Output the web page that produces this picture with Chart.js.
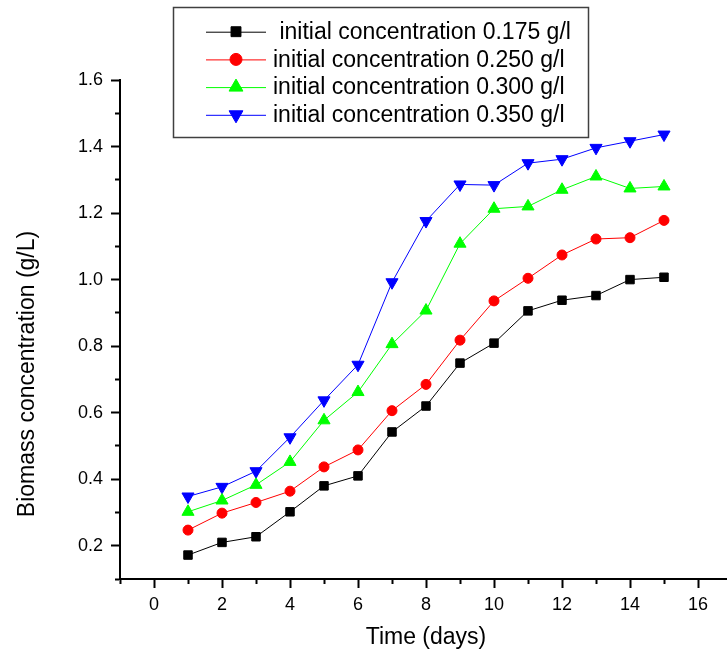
<!DOCTYPE html>
<html>
<head>
<meta charset="utf-8">
<title>Biomass concentration vs time</title>
<script src="https://cdn.jsdelivr.net/npm/chart.js@4.4.1/dist/chart.umd.min.js"></script>
<style>
  html, body { margin: 0; padding: 0; background: #fff; overflow: hidden; }
  #biomassChart { display: block; }
</style>
</head>
<body>
<canvas id="biomassChart" width="740" height="654"></canvas>
<script>
// Datos: concentración de biomasa (g/L) por día
const days = [1, 2, 3, 4, 5, 6, 7, 8, 9, 10, 11, 12, 13, 14, 15];
const conc0175 = [0.172, 0.210, 0.227, 0.302, 0.380, 0.410, 0.542, 0.620, 0.749, 0.809, 0.906, 0.938, 0.952, 1.000, 1.007];
const conc0250 = [0.247, 0.298, 0.330, 0.364, 0.437, 0.488, 0.606, 0.685, 0.818, 0.936, 1.004, 1.074, 1.122, 1.126, 1.178];
const conc0300 = [0.302, 0.336, 0.383, 0.452, 0.577, 0.662, 0.806, 0.907, 1.108, 1.213, 1.220, 1.270, 1.310, 1.274, 1.280];
const conc0350 = [0.348, 0.377, 0.424, 0.526, 0.637, 0.744, 0.992, 1.176, 1.286, 1.284, 1.350, 1.362, 1.396, 1.416, 1.436];
const seriesLabels = [
    ' initial concentration 0.175 g/l',
    'initial concentration 0.250 g/l',
    'initial concentration 0.300 g/l',
    'initial concentration 0.350 g/l'
];

// Marcas de los ejes (mayores con etiqueta, menores sin ella)
const xMajorTicks = [0, 2, 4, 6, 8, 10, 12, 14, 16];
const xMinorTicks = [-1, 1, 3, 5, 7, 9, 11, 13, 15, 17];
const yMajorTicks = [0.2, 0.4, 0.6, 0.8, 1.0, 1.2, 1.4, 1.6];
const yMinorTicks = [0.1, 0.3, 0.5, 0.7, 0.9, 1.1, 1.3, 1.5];

const xTitle = 'Time (days)';
const yTitle = 'Biomass concentration (g/L)';

const FONT = '"Liberation Sans", Arial, sans-serif';

function toPoints(values) {
    return days.map((d, i) => ({ x: d, y: values[i] }));
}

function setTicks(major, minor) {
    return function (axis) {
        axis.ticks = major.map(v => ({ value: v, major: true }))
            .concat(minor.map(v => ({ value: v, major: false })))
            .sort((a, b) => a.value - b.value);
    };
}

function makeDataset(label, values, color, style, radius, rotation) {
    return {
        label: label,
        data: toPoints(values),
        borderColor: color,
        backgroundColor: color,
        borderWidth: 1,
        pointStyle: style,
        pointRadius: radius,
        pointRotation: rotation || 0,
        pointBackgroundColor: color,
        pointBorderColor: color,
        pointBorderWidth: 1,
        tension: 0
    };
}

// Título del eje Y dibujado a mano (va centrado más abajo que el eje)
const yTitlePlugin = {
    id: 'yTitle',
    afterDraw(chart) {
        const ctx = chart.ctx;
        ctx.save();
        ctx.translate(33.5, 374);
        ctx.rotate(-Math.PI / 2);
        ctx.font = '23px ' + FONT;
        ctx.fillStyle = '#000';
        ctx.textAlign = 'center';
        ctx.textBaseline = 'alphabetic';
        ctx.fillText(yTitle, 0, 0);
        ctx.restore();
    }
};

// Leyenda con recuadro, como en la figura original
const boxLegendPlugin = {
    id: 'boxLegend',
    afterDraw(chart) {
        const ctx = chart.ctx;
        const box = { left: 173, top: 7, right: 588, bottom: 137 };
        ctx.save();
        ctx.fillStyle = '#fff';
        ctx.fillRect(box.left, box.top, box.right - box.left, box.bottom - box.top);
        ctx.strokeStyle = '#404040';
        ctx.lineWidth = 1.5;
        ctx.strokeRect(box.left + 0.5, box.top + 0.5, box.right - box.left, box.bottom - box.top);

        ctx.font = '23px ' + FONT;
        ctx.textBaseline = 'middle';
        ctx.textAlign = 'left';
        chart.data.datasets.forEach((ds, i) => {
            const y = 31.7 + i * 27.7;
            ctx.strokeStyle = ds.borderColor;
            ctx.lineWidth = 1;
            ctx.beginPath();
            ctx.moveTo(206, y + 0.5);
            ctx.lineTo(266, y + 0.5);
            ctx.stroke();
            ctx.fillStyle = ds.pointBackgroundColor;
            ctx.strokeStyle = ds.pointBorderColor;
            Chart.helpers.drawPoint(ctx, {
                pointStyle: ds.pointStyle,
                rotation: ds.pointRotation,
                radius: ds.pointRadius + 1,
                borderWidth: 1
            }, 236, y);
            ctx.fillStyle = '#000';
            ctx.fillText(ds.label, 273, y + 1);
        });
        ctx.restore();
    }
};

const ctx = document.getElementById('biomassChart').getContext('2d');
new Chart(ctx, {
    type: 'line',
    data: {
        datasets: [
            makeDataset(seriesLabels[0], conc0175, '#000000', 'rect', 6),
            makeDataset(seriesLabels[1], conc0250, '#ff0000', 'circle', 5),
            makeDataset(seriesLabels[2], conc0300, '#00ff00', 'triangle', 7),
            makeDataset(seriesLabels[3], conc0350, '#0000ff', 'triangle', 7, 180)
        ]
    },
    options: {
        responsive: false,
        animation: false,
        layout: { padding: { top: 80, right: 0, bottom: 0, left: 0 } },
        plugins: {
            legend: { display: false },
            tooltip: { enabled: false }
        },
        scales: {
            x: {
                type: 'linear',
                min: -1,
                max: 17,
                afterBuildTicks: setTicks(xMajorTicks, xMinorTicks),
                afterFit: axis => { axis.height = 75; },
                border: { display: true, color: '#000', width: 2 },
                grid: {
                    drawOnChartArea: false,
                    drawTicks: true,
                    tickLength: 9,
                    tickWidth: 2,
                    tickColor: '#000',
                    tickBorderDash: c => (c.tick && c.tick.major) ? [] : [4, 100]
                },
                ticks: {
                    autoSkip: false,
                    maxRotation: 0,
                    padding: 6,
                    color: '#000',
                    font: { family: FONT, size: 18 },
                    callback: (value, index, ticks) => ticks[index].major ? String(value) : ''
                },
                title: {
                    display: true,
                    text: xTitle,
                    color: '#000',
                    font: { family: FONT, size: 23 },
                    padding: { top: 0, bottom: 3 }
                }
            },
            y: {
                type: 'linear',
                min: 0.1,
                max: 1.6,
                afterBuildTicks: setTicks(yMajorTicks, yMinorTicks),
                afterFit: axis => { axis.width = 120; },
                border: { display: true, color: '#000', width: 2 },
                grid: {
                    drawOnChartArea: false,
                    drawTicks: true,
                    tickLength: 9,
                    tickWidth: 2,
                    tickColor: '#000',
                    tickBorderDash: c => (c.tick && c.tick.major) ? [] : [0, 4, 4, 100]
                },
                ticks: {
                    autoSkip: false,
                    padding: 8,
                    color: '#000',
                    font: { family: FONT, size: 18 },
                    callback: (value, index, ticks) => ticks[index].major ? value.toFixed(1) : ''
                },
                title: { display: false }
            }
        }
    },
    plugins: [yTitlePlugin, boxLegendPlugin]
});
</script>
</body>
</html>
